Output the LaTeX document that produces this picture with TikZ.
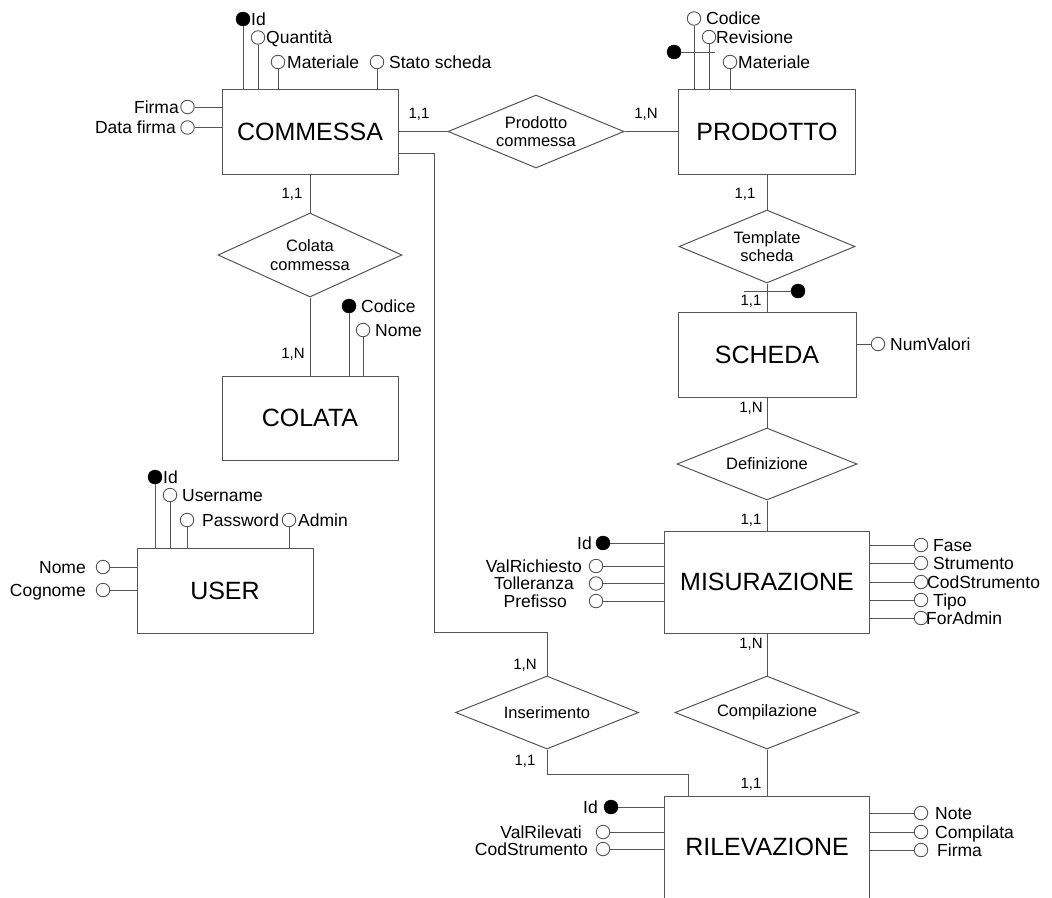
\documentclass[tikz,border=0pt]{standalone}
\usepackage{fontspec}
\setmainfont{Liberation Sans}
\usetikzlibrary{shapes.geometric}
\definecolor{edge}{RGB}{85,85,85}

\begin{document}
\begin{tikzpicture}[x=1pt,y=-1pt,
  link/.style={draw=edge,line width=1pt},
  entity/.style={draw=edge,line width=1pt,rectangle,inner sep=0pt,
    font=\fontsize{25}{29}\selectfont},
  relation/.style={draw=edge,line width=1pt,diamond,inner sep=0pt,aspect=2.4,
    align=center,font=\fontsize{16.5}{18.5}\selectfont},
  attr/.style={circle,draw=edge,line width=0.9pt,fill=white,inner sep=0pt,minimum size=13.5pt},
  key/.style={circle,draw=black,fill=black,inner sep=0pt,minimum size=14pt},
  lbl/.style={inner sep=0pt,text height=12.4pt,text depth=0pt,
    font=\fontsize{17.5}{20}\selectfont},
  card/.style={inner sep=0pt,font=\fontsize{15}{17}\selectfont},
]
\useasboundingbox (0,0) rectangle (1052,897);
\fill[white] (0,0) rectangle (1052,897);
\clip (0,0) rectangle (1052,897);

% ---------- entities ----------
\node[entity,minimum width=176pt,minimum height=85pt] (commessa) at (310,131.5) {COMMESSA};
\node[entity,minimum width=177pt,minimum height=85pt] (prodotto) at (767,131.5) {PRODOTTO};
\node[entity,minimum width=176pt,minimum height=84pt] (colata) at (310,418) {COLATA};
\node[entity,minimum width=178pt,minimum height=85pt] (scheda) at (767,354.5) {SCHEDA};
\node[entity,minimum width=176pt,minimum height=85pt] (user) at (225,590.5) {USER};
\node[entity,minimum width=205pt,minimum height=102pt] (misurazione) at (767,582) {MISURAZIONE};
\node[entity,minimum width=205pt,minimum height=102pt] (rilevazione) at (767,847) {RILEVAZIONE};

% ---------- relationships ----------
\node[relation,minimum width=176pt,minimum height=73pt] (pc) at (536,131.5) {Prodotto\\commessa};
\node[relation,minimum width=184pt,minimum height=84pt] (cc) at (310,255) {Colata\\commessa};
\node[relation,minimum width=176pt,minimum height=73pt] (ts) at (767,246.5) {Template\\scheda};
\node[relation,minimum width=180pt,minimum height=72pt] (def) at (767,464) {Definizione};
\node[relation,minimum width=183pt,minimum height=73pt] (ins) at (547,712.5) {Inserimento};
\node[relation,minimum width=184pt,minimum height=73pt] (comp) at (767,712.5) {Compilazione};

% ---------- relationship links ----------
\draw[link] (commessa) -- (pc);
\draw[link] (pc) -- (prodotto);
\draw[link] (commessa.south) -- (cc.north);
\draw[link] (cc.south) -- (colata.north);
\draw[link] (prodotto.south) -- (ts.north);
\draw[link] (ts.south) -- (scheda.north);
\draw[link] (scheda.south) -- (def.north);
\draw[link] (def.south) -- (misurazione.north);
\draw[link] (misurazione.south) -- (comp.north);
\draw[link] (comp.south) -- (rilevazione.north);
\draw[link] (commessa.east |- 0,153) -- (434,153) -- (434,632) -| (ins.north);
\draw[link] (ins.south) |- (688,774) -- (rilevazione.north -| 688,0);

% ---------- cardinalities ----------
\node[card] (k1) at (419,114) {1,1};
\node[card] (k2) at (646,114) {1,N};
\node[card] (k3) at (292,194) {1,1};
\node[card] (k4) at (293,354) {1,N};
\node[card] (k5) at (745,194) {1,1};
\node[card] (k6) at (751,301) {1,1};
\node[card] (k7) at (751,408) {1,N};
\node[card] (k8) at (751,520) {1,1};
\node[card] (k9) at (751,644) {1,N};
\node[card] (k10) at (525,665) {1,N};
\node[card] (k11) at (525,761) {1,1};
\node[card] (k12) at (751,784) {1,1};

% ---------- COMMESSA attributes ----------
\node[key] (cmId) at (243,19) {};
\draw[link] (cmId) -- (cmId |- commessa.north);
\node[lbl,anchor=west] (cmIdL) at (251,19) {Id};
\node[attr] (cmQta) at (258,37.5) {};
\draw[link] (cmQta) -- (cmQta |- commessa.north);
\node[lbl,anchor=west] (cmQtaL) at (266,37.5) {Quantità};
\node[attr] (cmMat) at (278,62) {};
\draw[link] (cmMat) -- (cmMat |- commessa.north);
\node[lbl,anchor=west] (cmMatL) at (287,62) {Materiale};
\node[attr] (cmStato) at (377,62) {};
\draw[link] (cmStato) -- (cmStato |- commessa.north);
\node[lbl,anchor=west] (cmStatoL) at (389,62) {Stato scheda};
\node[attr] (cmFirma) at (187.5,107) {};
\draw[link] (cmFirma) -- (cmFirma -| commessa.west);
\node[lbl,anchor=east] (cmFirmaL) at (179,107) {Firma};
\node[attr] (cmData) at (187.5,127.5) {};
\draw[link] (cmData) -- (cmData -| commessa.west);
\node[lbl,anchor=east] (cmDataL) at (176,127.5) {Data firma};

% ---------- PRODOTTO attributes ----------
\node[attr] (prCod) at (694,18.5) {};
\draw[link] (prCod) -- (prCod |- prodotto.north);
\node[lbl,anchor=west] (prCodL) at (706,18.5) {Codice};
\node[attr] (prRev) at (709,37) {};
\draw[link] (prRev) -- (prRev |- prodotto.north);
\node[lbl,anchor=west] (prRevL) at (716,37) {Revisione};
\node[attr] (prMat) at (730,62) {};
\draw[link] (prMat) -- (prMat |- prodotto.north);
\node[lbl,anchor=west] (prMatL) at (738,62) {Materiale};
\node[key] (prKey) at (674,52) {};
\coordinate (prKeyEnd) at (715,52);
\draw[link] (prKey) -- (prKeyEnd);

% ---------- COLATA attributes ----------
\node[key] (coCod) at (349,306) {};
\draw[link] (coCod) -- (coCod |- colata.north);
\node[lbl,anchor=west] (coCodL) at (361,306) {Codice};
\node[attr] (coNome) at (363,330) {};
\draw[link] (coNome) -- (coNome |- colata.north);
\node[lbl,anchor=west] (coNomeL) at (375,330) {Nome};

% ---------- SCHEDA attributes ----------
\node[key] (scKey) at (798,291) {};
\coordinate (scKeyEnd) at (744,291);
\draw[link] (scKeyEnd) -- (scKey);
\node[attr] (scNum) at (878,344) {};
\draw[link] (scNum) -- (scNum -| scheda.east);
\node[lbl,anchor=west] (scNumL) at (890,344) {NumValori};

% ---------- USER attributes ----------
\node[key] (usId) at (155,477) {};
\draw[link] (usId) -- (usId |- user.north);
\node[lbl,anchor=west] (usIdL) at (163,477) {Id};
\node[attr] (usUser) at (170,495) {};
\draw[link] (usUser) -- (usUser |- user.north);
\node[lbl,anchor=west] (usUserL) at (182,495) {Username};
\node[attr] (usPwd) at (187,520) {};
\draw[link] (usPwd) -- (usPwd |- user.north);
\node[lbl,anchor=west] (usPwdL) at (202,520) {Password};
\node[attr] (usAdm) at (289,520) {};
\draw[link] (usAdm) -- (usAdm |- user.north);
\node[lbl,anchor=west] (usAdmL) at (298,520) {Admin};
\node[attr] (usNome) at (103,567) {};
\draw[link] (usNome) -- (usNome -| user.west);
\node[lbl,anchor=east] (usNomeL) at (86,567) {Nome};
\node[attr] (usCog) at (103,590) {};
\draw[link] (usCog) -- (usCog -| user.west);
\node[lbl,anchor=east] (usCogL) at (86,590) {Cognome};

% ---------- MISURAZIONE attributes ----------
\node[key] (miId) at (603,543) {};
\draw[link] (miId) -- (miId -| misurazione.west);
\node[lbl,anchor=east] (miIdL) at (592,543) {Id};
\node[attr] (miVal) at (596,566) {};
\draw[link] (miVal) -- (miVal -| misurazione.west);
\node[lbl,anchor=east] (miValL) at (582,566) {ValRichiesto};
\node[attr] (miTol) at (596,583.5) {};
\draw[link] (miTol) -- (miTol -| misurazione.west);
\node[lbl,anchor=east] (miTolL) at (574,583.5) {Tolleranza};
\node[attr] (miPre) at (596,601) {};
\draw[link] (miPre) -- (miPre -| misurazione.west);
\node[lbl,anchor=east] (miPreL) at (567,601) {Prefisso};
\node[attr] (miFase) at (921,545) {};
\draw[link] (miFase) -- (miFase -| misurazione.east);
\node[lbl,anchor=west] (miFaseL) at (933,545) {Fase};
\node[attr] (miStr) at (921,563) {};
\draw[link] (miStr) -- (miStr -| misurazione.east);
\node[lbl,anchor=west] (miStrL) at (933,563) {Strumento};
\node[attr] (miCod) at (921,582) {};
\draw[link] (miCod) -- (miCod -| misurazione.east);
\node[lbl,anchor=west] (miCodL) at (927,582) {CodStrumento};
\node[attr] (miTipo) at (921,600) {};
\draw[link] (miTipo) -- (miTipo -| misurazione.east);
\node[lbl,anchor=west] (miTipoL) at (933,600) {Tipo};
\node[attr] (miAdm) at (921,618) {};
\draw[link] (miAdm) -- (miAdm -| misurazione.east);
\node[lbl,anchor=west] (miAdmL) at (926,618) {ForAdmin};

% ---------- RILEVAZIONE attributes ----------
\node[key] (riId) at (611,807) {};
\draw[link] (riId) -- (riId -| rilevazione.west);
\node[lbl,anchor=east] (riIdL) at (598,807) {Id};
\node[attr] (riVal) at (603,832) {};
\draw[link] (riVal) -- (riVal -| rilevazione.west);
\node[lbl,anchor=east] (riValL) at (582,832) {ValRilevati};
\node[attr] (riCod) at (603,849) {};
\draw[link] (riCod) -- (riCod -| rilevazione.west);
\node[lbl,anchor=east] (riCodL) at (588,849) {CodStrumento};
\node[attr] (riNote) at (921,813) {};
\draw[link] (riNote) -- (riNote -| rilevazione.east);
\node[lbl,anchor=west] (riNoteL) at (935,813) {Note};
\node[attr] (riComp) at (921,832) {};
\draw[link] (riComp) -- (riComp -| rilevazione.east);
\node[lbl,anchor=west] (riCompL) at (935,832) {Compilata};
\node[attr] (riFirma) at (921,850) {};
\draw[link] (riFirma) -- (riFirma -| rilevazione.east);
\node[lbl,anchor=west] (riFirmaL) at (937,850) {Firma};
\end{tikzpicture}
\end{document}
